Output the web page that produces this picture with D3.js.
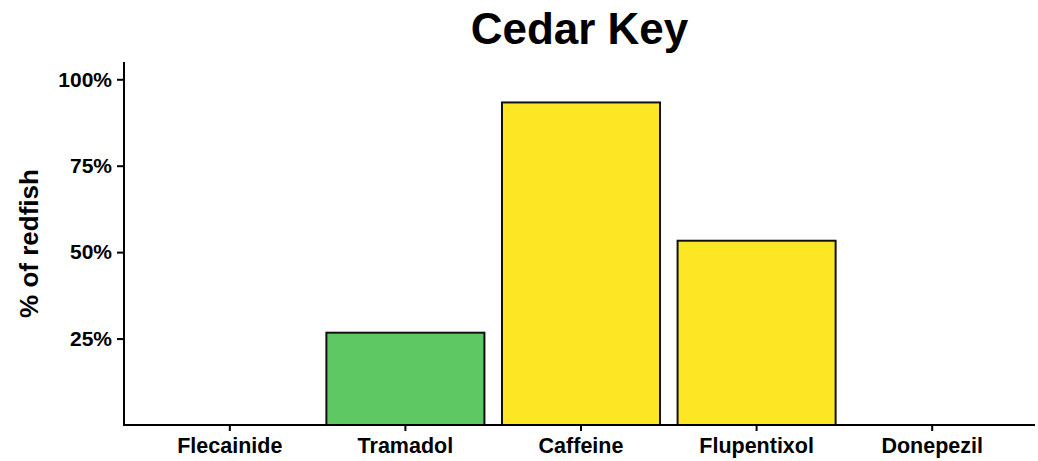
<!DOCTYPE html>
<html>
<head>
<meta charset="utf-8">
<script src="https://cdn.jsdelivr.net/npm/d3@7"></script>
<style>
  body { margin: 0; background: #fff; }
  svg text { font-family: "Liberation Sans", Arial, sans-serif; font-weight: bold; fill: #000; }
</style>
</head>
<body>
<svg id="chart" width="1038" height="461"></svg>
<script>
/* Data */
const drugs = ['Flecainide', 'Tramadol', 'Caffeine', 'Flupentixol', 'Donepezil'];
const shares = [0, 0.267, 0.933, 0.533, 0];
const barColors = ['#5EC962', '#5EC962', '#FDE725', '#FDE725', '#FDE725'];
const yTicks = [0.25, 0.5, 0.75, 1];
const chartTitle = 'Cedar Key';
const yTitle = '% of redfish';

/* SVG */
const svg = d3.select('#chart');
const plotLeft = 124, plotRight = 1035, plotTop = 62, plotBottom = 425;

/* Scales */
const x = d3.scaleBand()
  .domain(drugs)
  .range([142, 1020])
  .paddingInner(0.1)
  .paddingOuter(0.05);

const y = d3.scaleLinear()
  .domain([0, 1.05])
  .range([plotBottom, plotTop]);

/* Bars */
const rows = drugs.map((d, i) => ({ name: d, value: shares[i], color: barColors[i] }));

svg.append('g')
  .selectAll('rect')
  .data(rows.filter(d => d.value > 0))
  .enter()
  .append('rect')
  .attr('x', d => x(d.name))
  .attr('y', d => y(d.value))
  .attr('width', x.bandwidth())
  .attr('height', d => y(0) - y(d.value))
  .attr('fill', d => d.color)
  .attr('stroke', '#111')
  .attr('stroke-width', 2);

/* Axes */
const xAxis = svg.append('g')
  .attr('transform', `translate(0,${plotBottom})`)
  .call(d3.axisBottom(x).tickSize(6).tickSizeOuter(0));
xAxis.select('.domain').remove();
xAxis.append('line')
  .attr('x1', plotLeft).attr('x2', plotRight)
  .attr('stroke', '#000').attr('stroke-width', 2);
xAxis.selectAll('.tick line').attr('stroke', '#000').attr('stroke-width', 2);
xAxis.selectAll('.tick text')
  .attr('y', 13)
  .style('font-size', '21.5px');

const yAxis = svg.append('g')
  .attr('transform', `translate(${plotLeft},0)`)
  .call(d3.axisLeft(y).tickValues(yTicks).tickFormat(d3.format('.0%')).tickSize(7).tickSizeOuter(0));
yAxis.select('.domain').remove();
yAxis.append('line')
  .attr('y1', plotTop).attr('y2', plotBottom + 1)
  .attr('stroke', '#000').attr('stroke-width', 2);
yAxis.selectAll('.tick line').attr('stroke', '#000').attr('stroke-width', 2);
yAxis.selectAll('.tick text')
  .attr('x', -12)
  .style('font-size', '21px');

/* Titles */
svg.append('text')
  .attr('x', (plotLeft + plotRight) / 2)
  .attr('y', 44)
  .attr('text-anchor', 'middle')
  .style('font-size', '44px')
  .text(chartTitle);

svg.append('text')
  .attr('transform', `translate(38,${(plotTop + plotBottom) / 2}) rotate(-90)`)
  .attr('text-anchor', 'middle')
  .style('font-size', '26px')
  .text(yTitle);
</script>
</body>
</html>
